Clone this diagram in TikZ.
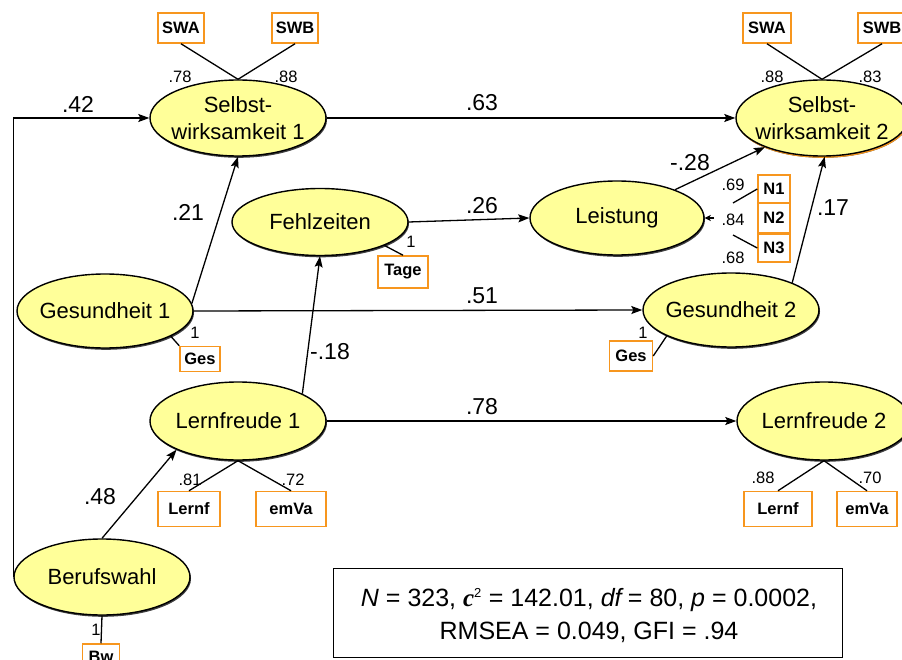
\documentclass[tikz,border=0pt]{standalone}
\usepackage{fontspec}
\setmainfont{Liberation Sans}
\newfontfamily\chifont{Liberation Serif}
\usetikzlibrary{shapes.geometric,arrows.meta,shadows}
\definecolor{latentfill}{RGB}{255,255,153}
\definecolor{indborder}{RGB}{247,150,30}

\begin{document}
\begin{tikzpicture}[x=1pt,y=-1pt,
  latent/.style={ellipse, draw=black, line width=1.4pt, fill=latentfill,
    inner sep=-16pt, align=center, font=\fontsize{22}{27}\selectfont,
    minimum width=176pt, minimum height=76pt,
    general shadow={shadow xshift=1pt, shadow yshift=-1.8pt, fill=black!75}},
  ind/.style={draw=indborder, line width=1.5pt, fill=white, inner sep=0pt,
    font=\fontsize{16.5}{16.5}\selectfont\bfseries},
  conn/.style={line width=1.3pt, draw=black},
  path/.style={conn, -{Stealth[length=11pt,width=8pt,inset=2pt]}},
  coef/.style={font=\fontsize{23}{23}\selectfont, inner sep=0pt},
  load/.style={font=\fontsize{16.5}{16.5}\selectfont, inner sep=0pt}]

\clip (0,0) rectangle (902,660);
\fill[white] (0,0) rectangle (902,660);

% latent variables
\node[latent] (sw1) at (238,118) {Selbst-\\wirksamkeit 1};
\node[latent, minimum width=172pt,
  general shadow={shadow xshift=1pt, shadow yshift=-1.8pt, fill=indborder}]
  (sw2) at (822,118) {Selbst-\\wirksamkeit 2};
\node[latent, minimum height=67pt] (fz) at (320,222) {Fehlzeiten};
\node[latent, minimum width=174pt, minimum height=74pt] (le) at (617,218) {Leistung};
\node[latent, minimum height=74pt] (g1) at (105,311) {Gesundheit 1};
\node[latent, minimum height=74pt] (g2) at (731,310) {Gesundheit 2};
\node[latent, minimum height=78pt] (l1) at (238,421) {Lernfreude 1};
\node[latent, minimum width=174pt, minimum height=78pt] (l2) at (824,421) {Lernfreude 2};
\node[latent] (bw) at (102,577) {Berufswahl};

% indicators
\node[ind, minimum width=46pt, minimum height=30pt] (swa1) at (181,28) {SWA};
\node[ind, minimum width=46pt, minimum height=30pt] (swb1) at (295,28) {SWB};
\node[ind, minimum width=48pt, minimum height=30pt] (swa2) at (767,28) {SWA};
\node[ind, minimum width=48pt, minimum height=30pt] (swb2) at (882,28) {SWB};
\node[ind, minimum width=32pt, minimum height=28pt] (n1) at (774,189) {N1};
\node[ind, minimum width=32pt, minimum height=29pt] (n2) at (774,218) {N2};
\node[ind, minimum width=32pt, minimum height=28pt] (n3) at (774,248) {N3};
\node[ind, minimum width=50pt, minimum height=32pt] (tage) at (403,272) {Tage};
\node[ind, minimum width=40pt, minimum height=25pt] (ges1) at (200,359) {Ges};
\node[ind, minimum width=43pt, minimum height=30pt] (ges2) at (631,356) {Ges};
\node[ind, minimum width=62pt, minimum height=35pt] (lernf1) at (189,509) {Lernf};
\node[ind, minimum width=70pt, minimum height=35pt] (emva1) at (291,509) {emVa};
\node[ind, minimum width=68pt, minimum height=35pt] (lernf2) at (778,509) {Lernf};
\node[ind, minimum width=60pt, minimum height=35pt] (emva2) at (867,509) {emVa};
\node[ind, minimum width=37pt, minimum height=26pt] (bwi) at (101,657) {Bw};

% measurement lines
\draw[conn] (swa1.south) -- (sw1.north);
\draw[conn] (swb1.south) -- (sw1.north);
\draw[conn] (swa2.south) -- (sw2.north);
\draw[conn] (swb2.south) -- (sw2.north);
\coordinate (n1end) at (733,203);
\coordinate (n3end) at (733,235);
\coordinate (n2end) at (714,218);
\draw[conn] (n1.west) -- (n1end);
\draw[conn] (n3.west) -- (n3end);
\draw[conn, -{Stealth[length=6pt,width=6pt,inset=1.5pt]}] (n2end) -- (le.east);
\draw[conn] (fz.-20) -- (tage.north);
\draw[conn] (g1.-21) -- (ges1.north west);
\draw[conn] (g2.202) -- (ges2.east);
\draw[conn] (lernf1.north) -- (l1.south);
\draw[conn] (emva1.north) -- (l1.south);
\draw[conn] (lernf2.north) -- (l2.south);
\draw[conn] (emva2.north) -- (l2.south);
\draw[conn] (bw.south) -- (bwi.north);

% structural paths
\draw[path] (bw.west) |- (sw1.west);
\draw[path] (sw1.east) -- (sw2.west);
\draw[path] (g1.5) -- (sw1.south);
\draw[path] (fz.east) -- (le.west);
\draw[path] (le.26) -- (sw2.207);
\draw[path] (g2.24) -- (sw2.-86);
\draw[path] (g1.east) -- (g2.west);
\draw[path] (l1.23) -- (fz.south);
\draw[path] (l1.east) -- (l2.west);
\draw[path] (bw.north) -- (l1.205);

% path coefficients
\node[coef] (c42) at (78,104) {.42};
\node[coef] (c63) at (482,103) {.63};
\node[coef] (c21) at (188,212) {.21};
\node[coef] (c26) at (482,206) {.26};
\node[coef] (c28) at (690,163) {-.28};
\node[coef] (c17) at (833,208) {.17};
\node[coef] (c51) at (482,296) {.51};
\node[coef] (c18) at (330,352) {-.18};
\node[coef] (c78) at (482,407) {.78};
\node[coef] (c48) at (100,497) {.48};

% loadings
\node[load] (ka1) at (180,77) {.78};
\node[load] (kb1) at (286,77) {.88};
\node[load] (ka2) at (772,77) {.88};
\node[load] (kb2) at (870,77) {.83};
\node[load] (kn1) at (733,185) {.69};
\node[load] (kn2) at (733,220) {.84};
\node[load] (kn3) at (733,258) {.68};
\node[load] (kt) at (411,242) {1};
\node[load] (kg1) at (195,333) {1};
\node[load] (kg2) at (643,333) {1};
\node[load] (kl1) at (190,480) {.81};
\node[load] (ke1) at (293,480) {.72};
\node[load] (kl2) at (763,478) {.88};
\node[load] (ke2) at (870,478) {.70};
\node[load] (kbw) at (96,630) {1};

% fit statistics
\node[draw=black, line width=1pt, minimum width=509pt, minimum height=89pt,
  inner sep=0pt] (fitbox) at (587.5,613) {};
\node[align=center, font=\fontsize{25}{33}\selectfont, inner sep=0pt]
  (fit) at (589,616) {\textit{N} = 323,\ {\chifont\bfseries\itshape c}\textsuperscript{\fontsize{13}{13}\selectfont 2} = 142.01, \textit{df}\,= 80, \textit{p} = 0.0002,\\RMSEA = 0.049, GFI = .94};
\end{tikzpicture}
\end{document}
